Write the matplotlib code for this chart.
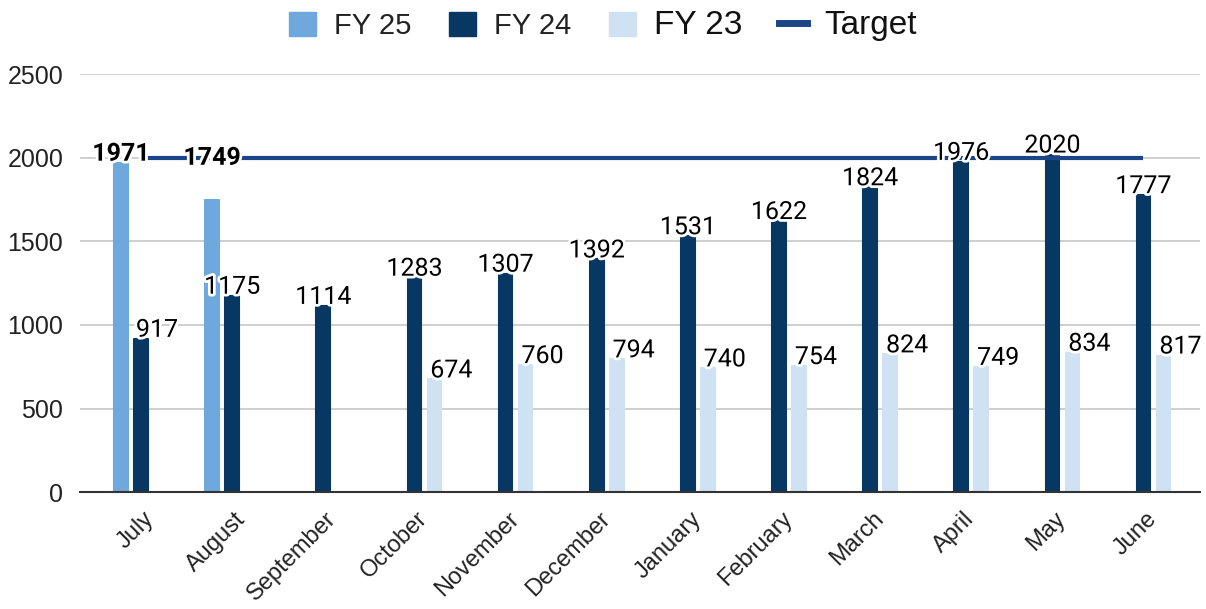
import numpy as np
import matplotlib.pyplot as plt
import matplotlib.patheffects as pe
import matplotlib.transforms as mtransforms
from matplotlib.patches import Patch
from matplotlib.lines import Line2D

months = ["July", "August", "September", "October", "November", "December",
          "January", "February", "March", "April", "May", "June"]
fy25 = [1971, 1749, None, None, None, None, None, None, None, None, None, None]
fy24 = [917, 1175, 1114, 1283, 1307, 1392, 1531, 1622, 1824, 1976, 2020, 1777]
fy23 = [None, None, None, 674, 760, 794, 740, 754, 824, 749, 834, 817]
target = [2000] * 12

c25 = "#6fa8dc"
c24 = "#073763"
c23 = "#cfe2f3"
ctarget = "#1c4587"

# label nudges in pixels (dx, dy) where the original moved labels around
nudge = {("fy24", 0): (16, 0), ("fy25", 1): (0, 33)}

fig = plt.figure(figsize=(12.06, 6.09), dpi=100)
ax = fig.add_axes([0.0663, 0.192, 0.9287, 0.686])

x = np.arange(len(months))
step = 0.22
width = 0.15

stroke = [pe.withStroke(linewidth=4, foreground="white")]


def draw_series(vals, offset, color, key, bold=False, dx_default=0):
    for i, v in enumerate(vals):
        if v is None:
            continue
        # thin edge with round joins gives the softened bar corners
        ax.bar(x[i] + offset, v, width=width, color=color, edgecolor=color,
               linewidth=1.5, joinstyle="round", zorder=3)
        dx, dy = nudge.get((key, i), (dx_default, 0))
        ax.annotate(str(v), (x[i] + offset, v), xytext=(dx * 0.72, (dy + 2) * 0.72),
                    textcoords="offset points", ha="center", va="baseline",
                    fontsize=18, family="Roboto",
                    fontweight="bold" if bold else "normal",
                    color="black", path_effects=stroke, zorder=6)


ax.plot(x, target, color=ctarget, lw=3.0, zorder=4, solid_capstyle="butt")
draw_series(fy25, -step, c25, "fy25", bold=True)
draw_series(fy24, 0, c24, "fy24")
draw_series(fy23, step, c23, "fy23", dx_default=17)

ax.set_xlim(-0.67, 11.62)
ax.set_ylim(0, 2500)
ax.set_yticks([0, 500, 1000, 1500, 2000, 2500])
ax.grid(axis="y", color="#cccccc", lw=1.3, zorder=0)
ax.set_axisbelow(True)
for s in ["top", "right", "left"]:
    ax.spines[s].set_visible(False)
ax.spines["bottom"].set_color("#333333")
ax.spines["bottom"].set_linewidth(1.5)
ax.spines["bottom"].set_zorder(5)
ax.tick_params(axis="both", length=0)
ax.tick_params(axis="y", pad=12, labelsize=18, labelcolor="#222222")

ax.set_xticks(x)
ax.set_xticklabels(months, rotation=45, ha="right", va="center",
                   rotation_mode="anchor", fontsize=17, color="#222222")
ax.tick_params(axis="x", pad=17)
shift = mtransforms.ScaledTranslation(10 / 100, 0, fig.dpi_scale_trans)
for lbl in ax.get_xticklabels():
    lbl.set_transform(lbl.get_transform() + shift)
for lbl in ax.get_yticklabels() + ax.get_xticklabels():
    lbl.set_family("Liberation Sans")

handles = [Patch(color=c25), Patch(color=c24), Patch(color=c23),
           Line2D([0], [0], color=ctarget, lw=5)]
leg = fig.legend(handles, ["FY 25", "FY 24", "FY 23", "Target"], ncol=4,
                 loc="center", bbox_to_anchor=(0.5, 0.958), frameon=False,
                 handlelength=0.93, handleheight=0.93, handletextpad=0.62,
                 columnspacing=1.28, prop={"family": "Liberation Sans", "size": 21})
sizes = [21, 21, 24, 24]
colors = ["#222222", "#222222", "#111111", "#111111"]
for t, s, c in zip(leg.get_texts(), sizes, colors):
    t.set_fontsize(s)
    t.set_color(c)

fig.savefig("out.png", dpi=100)
